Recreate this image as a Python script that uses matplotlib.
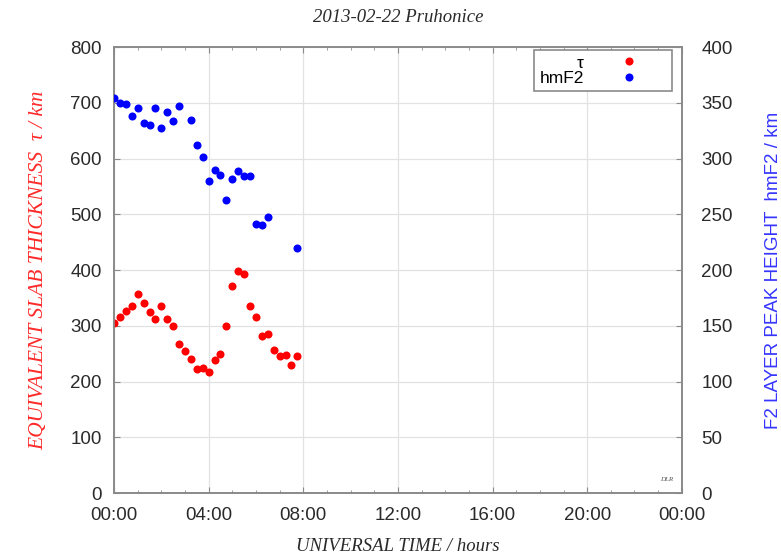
import numpy as np
import matplotlib
matplotlib.use("Agg")
import matplotlib.pyplot as plt
from matplotlib.ticker import MultipleLocator, FuncFormatter

# 15-minute samples, UT hours
hours = [i * 0.25 for i in range(32)]

# equivalent slab thickness tau (km), left axis
tau = [305, 315, 327, 336, 357, 341, 324, 313, 336, 312, 300, 268,
       255, 240, 222, 225, 217, 238, 249, 300, 371, 399, 393, 336,
       316, 282, 285, 257, 246, 248, 229, 245]

# F2 peak height hmF2 (km), right axis; None = no value
hmf2 = [354, 350, 349, 338, 345, 332, 330, 345, 327, 342, 334, 347,
        None, 335, 312, 301, 280, 290, 285, 263, 282, 289, 284, 284,
        241, 240, 248, None, None, None, None, 220]

x_ticks = [0, 4, 8, 12, 16, 20, 24]

hmf2_arr = np.array([np.nan if v is None else v for v in hmf2], dtype=float)

fig = plt.figure(figsize=(7.81, 5.54), dpi=100)
ax = fig.add_axes([0.146, 0.110, 0.727, 0.805])
ax2 = ax.twinx()

frame_col = "#8a8a8a"
lab_col = "#2a2a2a"
sans = "Liberation Sans"
serif = "Liberation Serif"

ax.plot(hours, tau, "o", color="#ff0000", ms=5.8, mew=0, label="\u03c4", zorder=3)
ax2.plot(hours, hmf2_arr, "o", color="#0000ff", ms=5.8, mew=0, label="hmF2", zorder=3)

ax.set_xlim(0, 24)
ax.set_ylim(0, 800)
ax2.set_ylim(0, 400)

ax.set_xticks(x_ticks)
ax.xaxis.set_minor_locator(MultipleLocator(1))
ax.xaxis.set_major_formatter(FuncFormatter(lambda v, p: "%02d:00" % (int(round(v)) % 24)))
ax.yaxis.set_major_locator(MultipleLocator(100))
ax2.yaxis.set_major_locator(MultipleLocator(50))

ax.grid(True, which="major", color="#e2e2e2", lw=0.9)
ax.set_axisbelow(True)

for a in (ax, ax2):
    for s in a.spines.values():
        s.set_color(frame_col)
        s.set_linewidth(1.2)

ax.tick_params(axis="x", which="both", direction="in", top=True, colors=frame_col,
               labelcolor=lab_col, labelsize=13.5, pad=10)
ax.tick_params(axis="x", which="major", length=4)
ax.tick_params(axis="x", which="minor", length=2.5)
ax.tick_params(axis="y", direction="in", length=4, colors=frame_col,
               labelcolor=lab_col, labelsize=13.5, pad=9)
ax2.tick_params(axis="y", direction="in", length=4, colors=frame_col,
                labelcolor=lab_col, labelsize=13.5, pad=14)
for t in ax.get_xticklabels() + ax.get_yticklabels() + ax2.get_yticklabels():
    t.set_fontfamily(sans)

ax.set_title("2013-02-22 Pruhonice", fontfamily=serif, style="italic",
             fontsize=13.5, color=lab_col, pad=18)
ax.set_xlabel("UNIVERSAL TIME / hours", fontfamily=serif, style="italic",
              fontsize=13.5, color=lab_col, labelpad=10)
ax.set_ylabel("EQUIVALENT SLAB THICKNESS  \u03c4 / km", fontfamily=serif,
              style="italic", fontsize=15.5, color="#ff2a2a", labelpad=16)
ax2.set_ylabel("F2 LAYER PEAK HEIGHT  hmF2 / km", fontfamily=sans,
               fontsize=13.5, color="#3535ff", labelpad=23)

ax.text(0.985, 0.025, "DLR", transform=ax.transAxes, ha="right", va="bottom",
        fontfamily=serif, style="italic", fontsize=5, color="#555555")

h1, l1 = ax.get_legend_handles_labels()
h2, l2 = ax2.get_legend_handles_labels()
leg = ax2.legend(h1 + h2, l1 + l2, loc="upper right", bbox_to_anchor=(0.982, 0.993),
                 borderaxespad=0, markerfirst=False, fancybox=False, framealpha=1,
                 edgecolor=frame_col, prop={"family": sans, "size": 12.5},
                 borderpad=0.3, labelspacing=0.0, handlelength=4.3,
                 handletextpad=0.45, numpoints=1)
leg.get_frame().set_linewidth(1.2)

fig.savefig("out.png", dpi=100)
